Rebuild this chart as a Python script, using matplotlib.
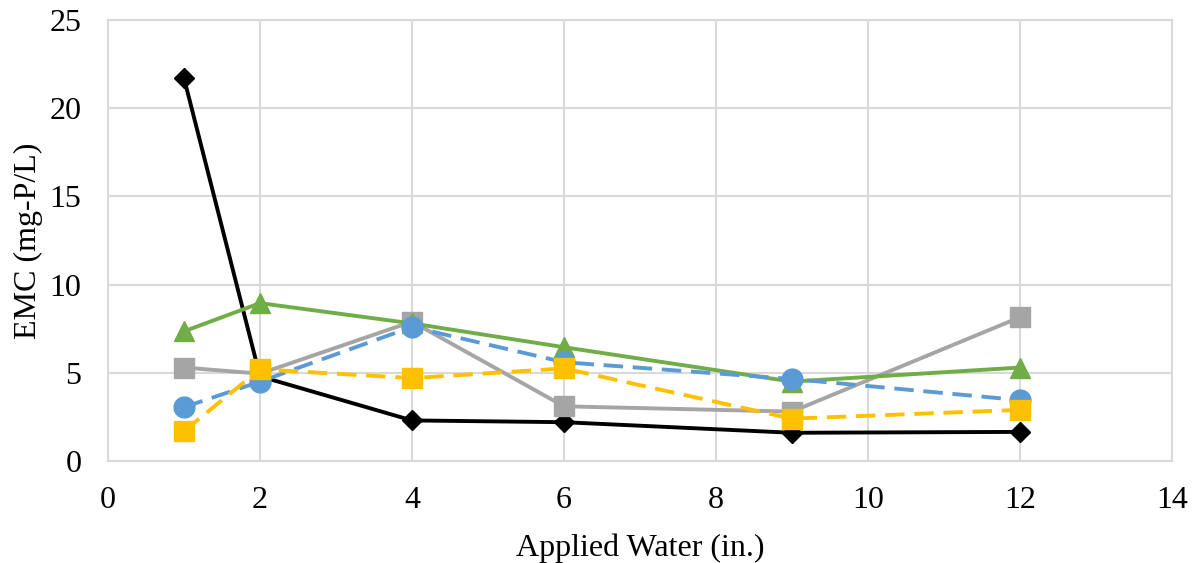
import matplotlib
matplotlib.use('Agg')
import matplotlib.pyplot as plt

plt.rcParams['font.family'] = ['Liberation Serif', 'DejaVu Serif']

water = [1, 2, 4, 6, 9, 12]
black = [21.7, 4.8, 2.3, 2.2, 1.6, 1.65]
gray = [5.3, 4.95, 7.9, 3.1, 2.8, 8.15]
green = [7.35, 8.95, 7.8, 6.45, 4.5, 5.3]
blue = [3.05, 4.5, 7.6, 5.6, 4.65, 3.45]
yellow = [1.7, 5.2, 4.7, 5.25, 2.4, 2.9]

fig = plt.figure(figsize=(12.02, 5.63), dpi=100)
ax = fig.add_axes([108 / 1202, 1 - 461 / 563, (1172 - 108) / 1202, (461 - 20) / 563])

dash = (0, (5, 2.5))
ax.plot(water, black, color='black', lw=2.8, marker='D', ms=10, zorder=3)
ax.plot(water, gray, color='#a5a5a5', lw=2.8, marker='s', ms=14, zorder=3)
ax.plot(water, green, color='#70ad47', lw=2.8, marker='^', ms=15, zorder=3)
ax.plot(water, blue, color='#5b9bd5', lw=2.8, ls=dash, marker='o', ms=15, zorder=3)
ax.plot(water, yellow, color='#ffc000', lw=2.8, ls=dash, marker='s', ms=14, zorder=3)

ax.set_xlim(0, 14)
ax.set_ylim(0, 25)
ax.set_xticks(range(0, 15, 2))
ax.set_yticks(range(0, 26, 5))
ax.grid(True, color='#d9d9d9', lw=1.5)
ax.set_axisbelow(True)
for s in ax.spines.values():
    s.set_color('#d9d9d9')
    s.set_linewidth(1.5)
ax.tick_params(axis='x', length=0, labelsize=23, pad=18)
ax.tick_params(axis='y', length=0, labelsize=23, pad=19)
ax.set_xlabel('Applied Water (in.)', fontsize=23, labelpad=13)
ax.set_ylabel('EMC (mg-P/L)', fontsize=23, labelpad=5)

plt.savefig('out.png', dpi=100)
plt.close('all')
